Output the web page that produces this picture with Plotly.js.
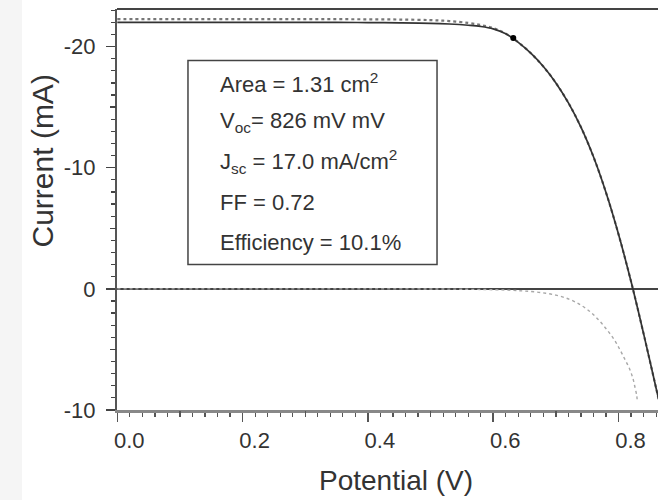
<!DOCTYPE html>
<html>
<head>
<meta charset="utf-8">
<script src="https://cdn.plot.ly/plotly-3.0.1.min.js"></script>
<style>
html,body{margin:0;padding:0;background:#fff;}
#chart{width:658px;height:500px;}
</style>
</head>
<body>
<div id="chart"></div>
<script>
// Illuminated J-V curve (measured, dotted) and fit (solid)
const vLight = [0.00, 0.05, 0.10, 0.15, 0.20, 0.25, 0.30, 0.35, 0.40, 0.45, 0.50, 0.53, 0.56, 0.58, 0.60, 0.62, 0.64, 0.66, 0.68, 0.70, 0.72, 0.74, 0.76, 0.78, 0.80, 0.82, 0.84, 0.86, 0.88];
const iMeasured = [-22.27, -22.27, -22.27, -22.27, -22.27, -22.27, -22.27, -22.26, -22.25, -22.23, -22.18, -22.10, -21.95, -21.78, -21.52, -21.07, -20.35, -19.45, -18.35, -17.0, -15.35, -13.35, -10.9, -7.95, -4.5, -0.6, 3.7, 8.2, 12.7];
const iFit = [-22.00, -22.00, -22.00, -22.00, -22.00, -22.00, -22.00, -22.00, -21.98, -21.96, -21.92, -21.86, -21.76, -21.66, -21.46, -21.05, -20.35, -19.45, -18.35, -17.0, -15.35, -13.35, -10.9, -7.95, -4.5, -0.6, 3.7, 8.2, 12.7];
// Maximum power point
const vMpp = [0.632];
const iMpp = [-20.7];
// Dark curve
const vDark = [0.00, 0.10, 0.20, 0.30, 0.40, 0.50, 0.55, 0.60, 0.63, 0.65, 0.675, 0.70, 0.722, 0.74, 0.755, 0.768, 0.781, 0.792, 0.802, 0.81, 0.818, 0.823, 0.826, 0.829, 0.830];
const iDark = [0, 0, 0, 0, 0, 0.01, 0.03, 0.07, 0.12, 0.18, 0.30, 0.52, 0.87, 1.35, 1.90, 2.55, 3.35, 4.10, 5.00, 5.80, 6.65, 7.40, 8.06, 8.80, 9.30];
// Ticks
const xTickVals = [0, 0.2, 0.4, 0.6, 0.8];
const xTickText = ['0.0', '0.2', '0.4', '0.6', '0.8'];
const xMidTicks = [0.1, 0.3, 0.5, 0.7];
const yTickVals = [-20, -10, 0, 10];
const yTickText = ['-20', '-10', '0', '-10'];
const yMidTicks = [-15, -5, 5];
// Text box
const boxLines = ['Area = 1.31 cm<sup>2</sup>', 'V<sub>oc</sub>= 826 mV mV', 'J<sub>sc</sub> = 17.0 mA/cm<sup>2</sup>', 'FF = 0.72', 'Efficiency = 10.1%'];
const boxLineY = [-17.03, -13.81, -10.52, -7.13, -3.83];
const xTitle = 'Potential (V)';
const yTitle = 'Current (mA)';

const FONT = '"Liberation Sans", Arial, Helvetica, sans-serif';
const TXT = '#333';
const xRange = [-0.0005, 0.863];
const yRange = [10.0, -23.1];

const traces = [
  {x: vDark, y: iDark, mode: 'lines', line: {color: '#a8a8a8', width: 1.4, dash: 'dot', shape: 'spline'}, hoverinfo: 'skip'},
  {x: vLight, y: iMeasured, mode: 'lines', line: {color: '#777', width: 2.2, dash: 'dot', shape: 'spline'}, hoverinfo: 'skip'},
  {x: vLight, y: iFit, mode: 'lines', line: {color: '#333', width: 1.7, shape: 'spline'}, hoverinfo: 'skip'},
  {x: vMpp, y: iMpp, mode: 'markers', marker: {color: '#000', size: 6}, hoverinfo: 'skip'},
  {x: [0.4], y: [0], xaxis: 'x2', yaxis: 'y2', mode: 'markers', marker: {opacity: 0}, hoverinfo: 'skip'}
];

const annotations = boxLines.map((t, i) => ({
  xref: 'x', yref: 'y', x: 0.1607, y: boxLineY[i], text: t, showarrow: false,
  xanchor: 'left', yanchor: 'middle', font: {family: FONT, size: 22, color: TXT}
}));
annotations.push({xref: 'paper', yref: 'paper', x: -0.1377, y: 0.621, text: yTitle, textangle: -90,
  showarrow: false, xanchor: 'center', yanchor: 'middle', font: {family: FONT, size: 30, color: TXT}});
annotations.push({xref: 'paper', yref: 'paper', x: 0.5157, y: -0.1756, text: xTitle,
  showarrow: false, xanchor: 'center', yanchor: 'middle', font: {family: FONT, size: 28, color: TXT}});

const layout = {
  width: 658, height: 500,
  margin: {l: 117, r: 0, t: 9, b: 90, pad: 0},
  paper_bgcolor: '#fff', plot_bgcolor: '#fff',
  showlegend: false,
  font: {family: FONT, color: TXT},
  xaxis: {
    range: xRange, autorange: false, fixedrange: true,
    tickmode: 'array', tickvals: xTickVals, ticktext: xTickText,
    ticks: 'outside', ticklen: 9, tickwidth: 1.5, tickcolor: '#555',
    ticklabelshift: 12,
    tickfont: {family: FONT, size: 22, color: TXT},
    showline: true, linecolor: '#888', linewidth: 3,
    showgrid: false, zeroline: false,
    minor: {dtick: 0.02, tick0: 0, ticks: 'outside', ticklen: 4, tickwidth: 1.2, tickcolor: '#555', showgrid: false}
  },
  yaxis: {
    range: yRange, autorange: false, fixedrange: true,
    tickmode: 'array', tickvals: yTickVals, ticktext: yTickText,
    ticks: 'outside', ticklen: 9, tickwidth: 1.5, tickcolor: '#444',
    ticklabelstandoff: 6,
    tickfont: {family: FONT, size: 22, color: TXT},
    showline: true, linecolor: '#555', linewidth: 2,
    showgrid: false, zeroline: true, zerolinecolor: '#444', zerolinewidth: 1.5,
    minor: {dtick: 1, tick0: 0, ticks: 'outside', ticklen: 4, tickwidth: 1.2, tickcolor: '#444', showgrid: false}
  },
  xaxis2: {
    overlaying: 'x', anchor: 'y2', side: 'bottom', range: xRange, autorange: false, fixedrange: true,
    tickmode: 'array', tickvals: xMidTicks, ticks: 'outside', ticklen: 6, tickwidth: 1.3, tickcolor: '#555',
    showticklabels: false, showline: false, showgrid: false, zeroline: false
  },
  yaxis2: {
    overlaying: 'y', anchor: 'x2', side: 'left', range: yRange, autorange: false, fixedrange: true,
    tickmode: 'array', tickvals: yMidTicks, ticks: 'outside', ticklen: 6, tickwidth: 1.3, tickcolor: '#444',
    showticklabels: false, showline: false, showgrid: false, zeroline: false
  },
  shapes: [
    {type: 'rect', xref: 'paper', yref: 'paper', x0: -0.2163, x1: -0.1756, y0: -0.23, y1: 1.03,
     fillcolor: '#f5f5f5', line: {width: 0}, layer: 'below'},
    {type: 'line', xref: 'paper', yref: 'paper', x0: 0, x1: 1, y0: 1, y1: 1,
     line: {color: '#444', width: 2}},
    {type: 'rect', xref: 'x', yref: 'y', x0: 0.1128, x1: 0.5103, y0: -18.85, y1: -2.0,
     line: {color: '#444', width: 1.5}, fillcolor: 'rgba(0,0,0,0)'}
  ],
  annotations: annotations
};

Plotly.newPlot('chart', traces, layout, {displayModeBar: false, staticPlot: true});
</script>
</body>
</html>
